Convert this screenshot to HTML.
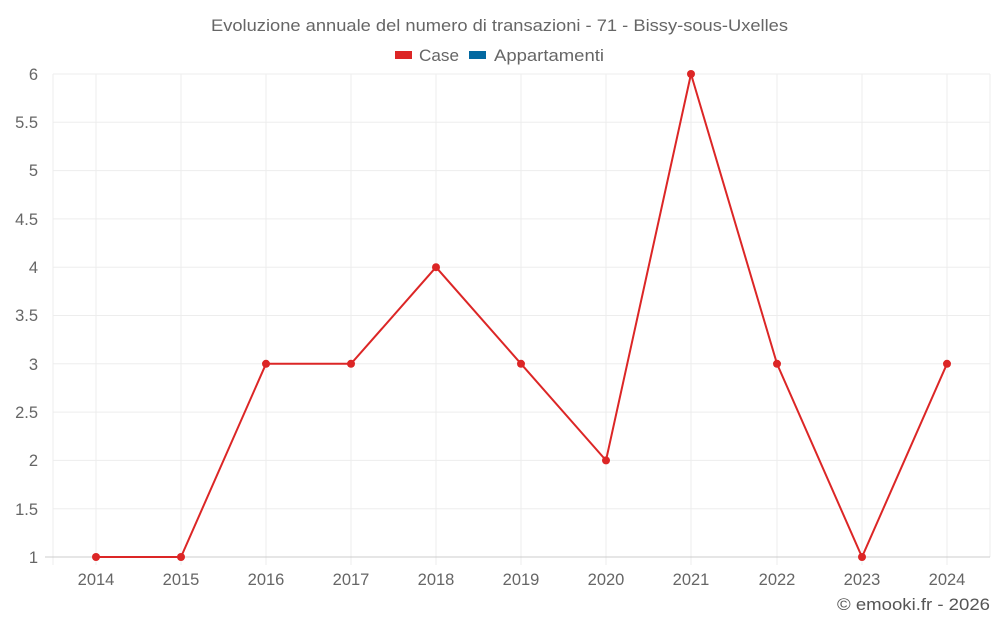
<!DOCTYPE html>
<html><head><meta charset="utf-8"><style>
html,body{margin:0;padding:0;background:#fff;}
svg{display:block;font-family:"Liberation Sans",sans-serif;}
</style></head><body>
<svg width="1000" height="625" viewBox="0 0 1000 625">
<text x="211" y="31" font-size="17" fill="#666" textLength="577" lengthAdjust="spacingAndGlyphs">Evoluzione annuale del numero di transazioni - 71 - Bissy-sous-Uxelles</text>
<rect x="395" y="51" width="17" height="8" fill="#dc2626"/>
<text x="419" y="61" font-size="17" fill="#666" textLength="40" lengthAdjust="spacingAndGlyphs">Case</text>
<rect x="469" y="51" width="17" height="8" fill="#0369a1"/>
<text x="494" y="61" font-size="17" fill="#666" textLength="110" lengthAdjust="spacingAndGlyphs">Appartamenti</text>
<g stroke="#ededed" stroke-width="1">
<line x1="53" y1="74" x2="990" y2="74"/><line x1="53" y1="122.3" x2="990" y2="122.3"/>
<line x1="53" y1="170.6" x2="990" y2="170.6"/><line x1="53" y1="218.9" x2="990" y2="218.9"/>
<line x1="53" y1="267.2" x2="990" y2="267.2"/><line x1="53" y1="315.5" x2="990" y2="315.5"/>
<line x1="53" y1="363.8" x2="990" y2="363.8"/><line x1="53" y1="412.1" x2="990" y2="412.1"/>
<line x1="53" y1="460.4" x2="990" y2="460.4"/><line x1="53" y1="508.7" x2="990" y2="508.7"/>
<line x1="53" y1="74" x2="53" y2="565"/><line x1="990" y1="74" x2="990" y2="557"/>
<line x1="96" y1="74" x2="96" y2="565"/><line x1="181" y1="74" x2="181" y2="565"/>
<line x1="266" y1="74" x2="266" y2="565"/><line x1="351" y1="74" x2="351" y2="565"/>
<line x1="436" y1="74" x2="436" y2="565"/><line x1="521" y1="74" x2="521" y2="565"/>
<line x1="606" y1="74" x2="606" y2="565"/><line x1="691" y1="74" x2="691" y2="565"/>
<line x1="777" y1="74" x2="777" y2="565"/><line x1="862" y1="74" x2="862" y2="565"/>
<line x1="947" y1="74" x2="947" y2="565"/>
</g>
<line x1="45" y1="557" x2="990" y2="557" stroke="#ccc"/>
<g font-size="16.5" fill="#666" text-anchor="end">
<text x="38" y="80">6</text><text x="38" y="128">5.5</text><text x="38" y="176">5</text>
<text x="38" y="225">4.5</text><text x="38" y="273">4</text><text x="38" y="321">3.5</text>
<text x="38" y="370">3</text><text x="38" y="418">2.5</text><text x="38" y="466">2</text>
<text x="38" y="515">1.5</text><text x="38" y="563">1</text>
</g>
<g font-size="16.5" fill="#666" text-anchor="middle">
<text x="96" y="585">2014</text><text x="181" y="585">2015</text><text x="266" y="585">2016</text>
<text x="351" y="585">2017</text><text x="436" y="585">2018</text><text x="521" y="585">2019</text>
<text x="606" y="585">2020</text><text x="691" y="585">2021</text><text x="777" y="585">2022</text>
<text x="862" y="585">2023</text><text x="947" y="585">2024</text>
</g>
<polyline fill="none" stroke="#dc2626" stroke-width="2" points="96,557 181,557 266,363.8 351,363.8 436,267.2 521,363.8 606,460.4 691,74 777,363.8 862,557 947,363.8"/>
<g fill="#dc2626">
<circle cx="96" cy="557" r="4"/><circle cx="181" cy="557" r="4"/><circle cx="266" cy="363.8" r="4"/>
<circle cx="351" cy="363.8" r="4"/><circle cx="436" cy="267.2" r="4"/><circle cx="521" cy="363.8" r="4"/>
<circle cx="606" cy="460.4" r="4"/><circle cx="691" cy="74" r="4"/><circle cx="777" cy="363.8" r="4"/>
<circle cx="862" cy="557" r="4"/><circle cx="947" cy="363.8" r="4"/>
</g>
<text x="837" y="610" font-size="17" fill="#555" textLength="153" lengthAdjust="spacingAndGlyphs">© emooki.fr - 2026</text>
</svg>
</body></html>
